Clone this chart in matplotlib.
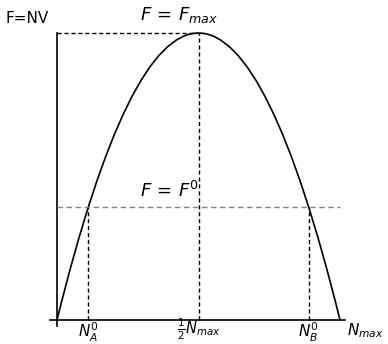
"""Schematic of the flux F = NV against density N."""

import matplotlib.pyplot as plt
from matplotlib.patches import PathPatch
from matplotlib.path import Path

plt.rcParams.update({"mathtext.fontset": "dejavusans", "font.family": "DejaVu Sans"})

# scaled quantities (N_max = 1, F_max = 1)
n_max = 1.0
f_max = 1.0
n_peak = 0.5
f_zero = 0.394
n_a = 0.111
n_b = 0.889

tick_pos = [n_a, n_peak, n_b, n_max]
tick_labels = [r"$N_A^0$", r"$\frac{1}{2}N_{max}$", r"$N_B^0$", r"$N_{max}$"]

fig = plt.figure(figsize=(3.88, 3.44), dpi=100)
ax = fig.add_axes([0, 0, 1, 1])
ax.set_xlim(-57 / 283, 331 / 283)
ax.set_ylim(-24 / 287, 320 / 287)
ax.axis("off")

# axes drawn by hand so they cross a little at the origin
ax.plot([-7 / 283, 288 / 283], [0, 0], color="black", lw=1.2)
ax.plot([0, 0], [-6 / 287, f_max], color="black", lw=1.2)

# parabola F = 4 F_max (N/N_max)(1 - N/N_max) as a quadratic Bezier
curve = Path(
    [(0, 0), (n_peak, 2 * f_max), (n_max, 0)],
    [Path.MOVETO, Path.CURVE3, Path.CURVE3],
)
ax.add_patch(PathPatch(curve, facecolor="none", edgecolor="black", lw=1.2))

dash = dict(color="black", lw=1.0, ls=(0, (3, 2)))
ax.plot([0, n_peak], [f_max, f_max], **dash)
ax.plot([n_peak, n_peak], [0, f_max], **dash)
ax.plot([n_a, n_a], [0, f_zero], **dash)
ax.plot([n_b, n_b], [0, f_zero], **dash)
ax.plot([0, n_max], [f_zero, f_zero], color="#8a7c8a", lw=1.0, ls=(0, (4, 2.5)))

ax.text(-51 / 283, f_max + 7 / 287, "F=NV", fontsize=11, va="bottom", ha="left")
ax.text(83 / 283, f_max + 8 / 287, r"$F\,=\,F_{max}$", fontsize=13, va="bottom", ha="left")
ax.text(83 / 283, f_zero + 6 / 287, r"$F\,=\,F^0$", fontsize=13, va="bottom", ha="left")

for x, label in zip(tick_pos, tick_labels):
    ha = "left" if x == n_max else "center"
    dx = 7 / 283 if x == n_max else 0
    dy = 3 / 287 if x == n_peak else -1 / 287
    size = 10.5 if x == n_peak else 11
    ax.text(x + dx, dy, label, fontsize=size, va="top", ha=ha)

fig.savefig("out.png", dpi=100)
